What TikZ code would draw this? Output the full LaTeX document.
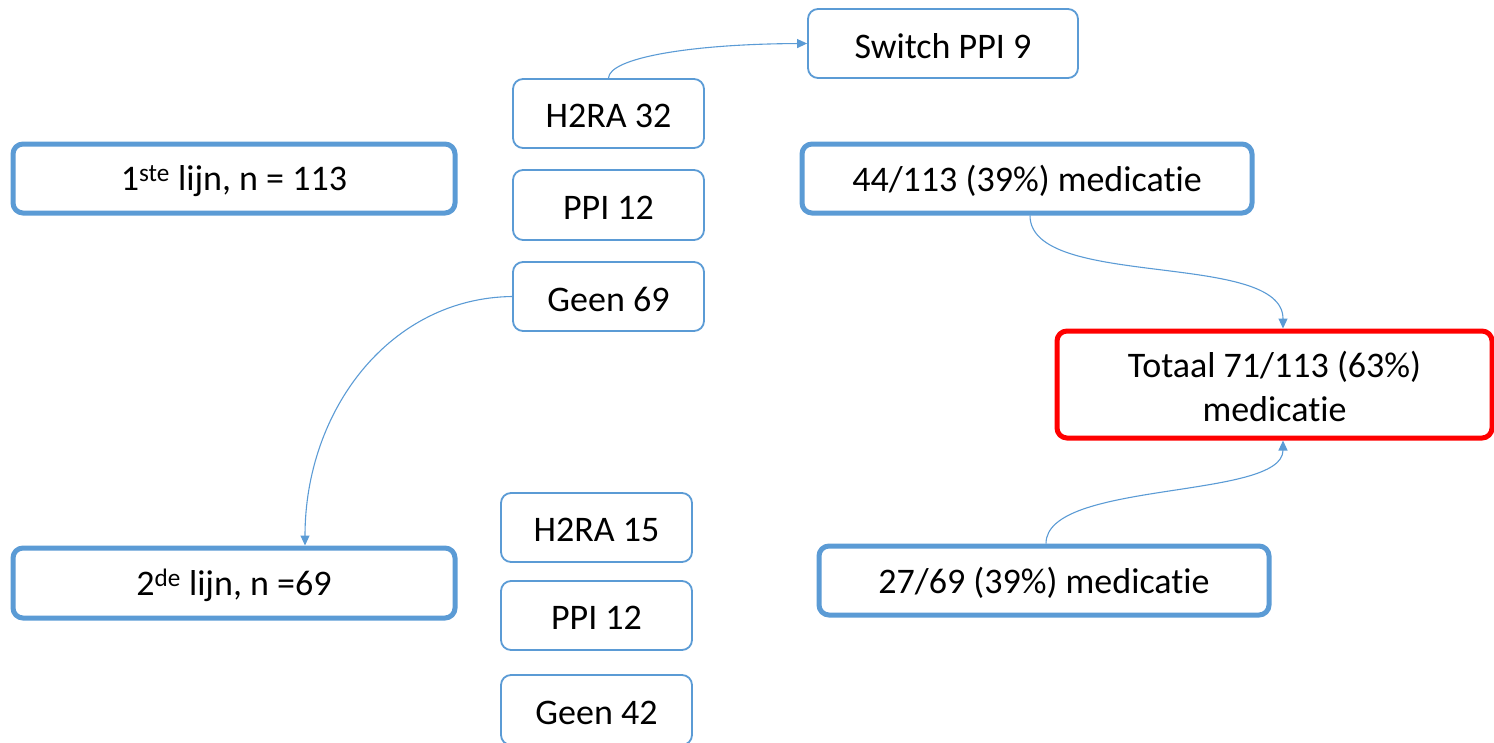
\documentclass[tikz,border=0pt]{standalone}
\usepackage{fontspec}
\setmainfont[RawFeature={-liga;-dlig;-clig}]{Carlito}
\usetikzlibrary{arrows.meta,calc}
\definecolor{obl}{HTML}{5B9BD5}
\begin{document}
\begin{tikzpicture}[x=1pt,y=-1pt,
  base/.style={draw=obl,fill=white,rounded corners=10pt,align=center,inner sep=0pt,
    font=\fontsize{36}{44}\selectfont,text=black},
  thin/.style={base,line width=1.8pt},
  thick/.style={base,line width=5pt},
  redbox/.style={base,draw=red,line width=5pt},
  lbl/.style={inner sep=0pt,align=center,font=\fontsize{36}{44}\selectfont,text=black},
  conn/.style={draw=obl,line width=1.1pt,-{Triangle[length=10pt,width=9pt]}}]
\useasboundingbox (0,0) rectangle (1494,742);
\node[thin,minimum width=270pt,minimum height=69pt] (sw) at (943,43.5) {};
\node[thin,minimum width=191pt,minimum height=69pt] (h1) at (608.5,113.5) {};
\node[thin,minimum width=191pt,minimum height=70pt] (p1) at (608.5,205) {};
\node[thin,minimum width=191pt,minimum height=69pt] (g1) at (608.5,296.5) {};
\node[thick,minimum width=442pt,minimum height=69pt] (l1) at (234,178.5) {};
\node[thick,minimum width=450pt,minimum height=69pt] (m1) at (1027,178.5) {};
\node[redbox,minimum width=435pt,minimum height=107pt] (tot) at (1274.5,384.5) {};
\node[thick,minimum width=442pt,minimum height=70pt] (l2) at (234,583) {};
\node[thin,minimum width=191pt,minimum height=69pt] (h2) at (596.5,527.5) {};
\node[thin,minimum width=191pt,minimum height=69pt] (p2) at (596.5,615.5) {};
\node[thin,minimum width=191pt,minimum height=70pt] (g2) at (596.5,710) {};
\node[thick,minimum width=450pt,minimum height=69pt] (m2) at (1044,580.5) {};
\node[lbl] (tsw) at ([yshift=-2.5pt]sw.center) {Switch PPI 9};
\node[lbl] (th1) at ([yshift=-2.5pt]h1.center) {H2RA 32};
\node[lbl] (tp1) at ([yshift=-2.5pt]p1.center) {PPI 12};
\node[lbl] (tg1) at ([yshift=-2.5pt]g1.center) {Geen 69};
\node[lbl] (tl1) at ([yshift=-2.5pt]l1.center) {1\textsuperscript{ste} lijn, n = 113};
\node[lbl] (tm1) at ([yshift=-2.5pt]m1.center) {44/113 (39\%) medicatie};
\node[lbl] (ttot) at ([yshift=-1.5pt]tot.center) {Totaal 71/113 (63\%)\\medicatie};
\node[lbl] (tl2) at ([yshift=-2.5pt]l2.center) {2\textsuperscript{de} lijn, n =69};
\node[lbl] (th2) at ([yshift=-2.5pt]h2.center) {H2RA 15};
\node[lbl] (tp2) at ([yshift=-2.5pt]p2.center) {PPI 12};
\node[lbl] (tg2) at ([yshift=-2.5pt]g2.center) {Geen 42};
\node[lbl] (tm2) at ([yshift=-2.5pt]m2.center) {27/69 (39\%) medicatie};
\draw[conn] (h1.north) .. controls (609,58) and (690,44) .. (sw.west);
\draw[conn] (g1.west) .. controls (390,298) and (305,410) .. ([xshift=71pt]l2.north);
\draw[conn] ([xshift=3pt]m1.south) .. controls (1030,290) and (1283,250) .. ([xshift=8.5pt]tot.north);
\draw[conn] ([xshift=2pt]m2.north) .. controls (1046,480) and (1283,500) .. ([xshift=8.5pt]tot.south);
\end{tikzpicture}
\end{document}
